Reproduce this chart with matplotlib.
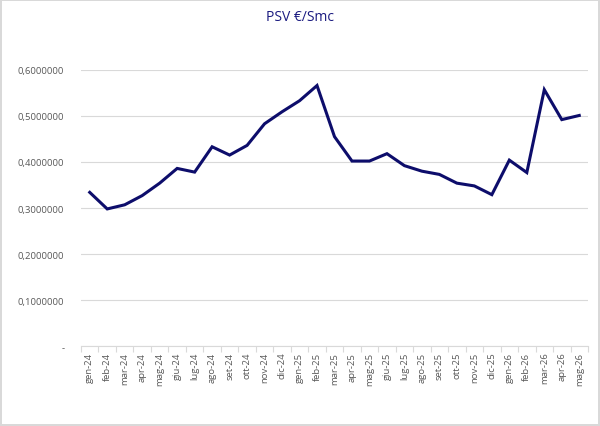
import matplotlib.pyplot as plt
import numpy as np
from matplotlib.ticker import FuncFormatter

months = ["gen-24", "feb-24", "mar-24", "apr-24", "mag-24", "giu-24", "lug-24", "ago-24",
          "set-24", "ott-24", "nov-24", "dic-24", "gen-25", "feb-25", "mar-25", "apr-25",
          "mag-25", "giu-25", "lug-25", "ago-25", "set-25", "ott-25", "nov-25", "dic-25",
          "gen-26", "feb-26", "mar-26", "apr-26", "mag-26"]
psv = [0.334, 0.298, 0.307, 0.327, 0.354, 0.386, 0.378, 0.433,
       0.415, 0.436, 0.483, 0.509, 0.533, 0.566, 0.455, 0.402,
       0.402, 0.418, 0.392, 0.380, 0.373, 0.354, 0.348, 0.329,
       0.404, 0.377, 0.557, 0.492, 0.501]

plt.rcParams['font.family'] = ['Open Sans', 'DejaVu Sans']

fig = plt.figure(figsize=(6, 4.27), dpi=100)
fig.patch.set_edgecolor('#d9d9d9')
fig.patch.set_linewidth(1.5)
ax = fig.add_axes([0.135, 0.187, 0.845, 0.647])

x = np.arange(len(months))
ax.plot(x, psv, color='#0d0d6b', linewidth=2.2, solid_joinstyle='miter')

ax.set_ylim(0, 0.6)
ax.set_xlim(-0.5, len(months) - 0.5)
ax.set_yticks(np.arange(0, 0.61, 0.1))

def fmt(v, pos):
    if abs(v) < 1e-9:
        return "-"
    return f"{v:.7f}".replace(".", ",")

ax.yaxis.set_major_formatter(FuncFormatter(fmt))
ax.set_xticks(x)
ax.set_xticklabels(months, rotation=90)
ax.set_xticks(np.arange(-0.5, len(months), 1), minor=True)
ax.tick_params(axis='x', which='major', length=0, pad=4, labelsize=6.8, labelcolor='#595959')
ax.tick_params(axis='x', which='minor', length=4, color='#d9d9d9', width=0.8)
ax.tick_params(axis='y', length=0, pad=12, labelsize=6.8, labelcolor='#595959')

ax.grid(axis='y', color='#d9d9d9', linewidth=0.8)
ax.set_axisbelow(True)
for s in ['top', 'right', 'left']:
    ax.spines[s].set_visible(False)
ax.spines['bottom'].set_color('#d9d9d9')
ax.spines['bottom'].set_linewidth(0.8)

fig.text(0.5, 0.958, "PSV €/Smc", ha='center', va='center', fontsize=10, color='#1a1a80')

plt.savefig("out.png", dpi=100, edgecolor=fig.get_edgecolor())
